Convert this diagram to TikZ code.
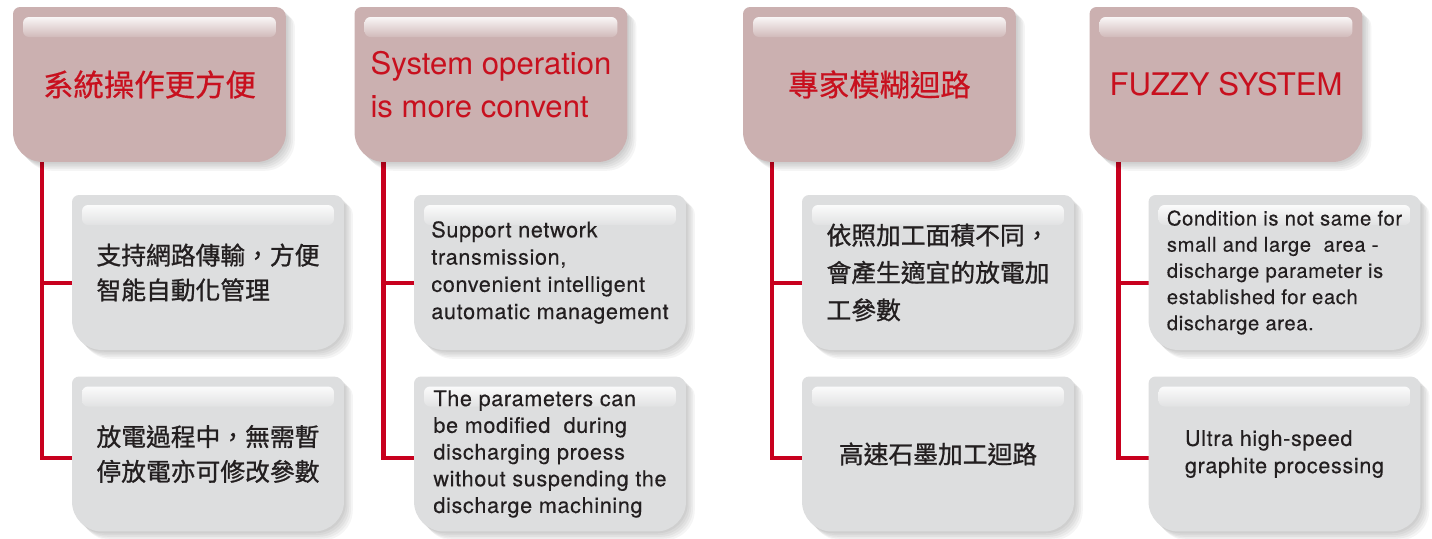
\documentclass[tikz,border=0pt]{standalone}
\usepackage{fontspec}
\setmainfont{TeX Gyre Heros}
\newfontfamily\bodyfont{TeX Gyre Heros}[LetterSpace=3, FakeBold=0.3]
\newfontfamily\cjk{Noto Sans CJK TC}[FakeBold=0.5]
\newfontfamily\cjkbody{Noto Sans CJK TC}[FakeBold=1]
\usetikzlibrary{backgrounds}

\definecolor{hdrfill}{HTML}{CBB0B0}
\definecolor{itemfill}{HTML}{DDDEDF}
\definecolor{spinered}{HTML}{C8001E}
\definecolor{hdrred}{HTML}{C8101E}
\definecolor{ink}{HTML}{231F20}

% glossy panel behind a node: soft shadow, body, light strip on top
\newcommand\glossbox[2]{%
  \foreach \s in {1,...,5}
    \fill[black, opacity=0.04, transform canvas={xshift=\s pt, yshift=-\s pt}]
      (#1.west) [rounded corners=0.14cm] |- (#1.north) [rounded corners=0.2cm] -| (#1.east)
      [rounded corners=0.6cm] |- (#1.south) -| (#1.west);
  \fill[#2]
    (#1.west) [rounded corners=0.14cm] |- (#1.north) [rounded corners=0.2cm] -| (#1.east)
    [rounded corners=0.6cm] |- (#1.south) -| (#1.west);
  \shade[top color=white!88!#2, middle color=white!50!#2, bottom color=white!12!#2, rounded corners=0.12cm]
    ([shift={(0.2cm,-0.2cm)}]#1.north west) rectangle ([shift={(-0.2cm,-0.6cm)}]#1.north east);
}

\begin{document}
\begin{tikzpicture}[
  x=0.02cm, y=-0.02cm,
  head/.style={minimum width=5.46cm, minimum height=3.1cm, inner sep=0pt, outer sep=0pt,
    text=hdrred, align=left, font=\fontsize{17.7}{24.4}\selectfont},
  headcjk/.style={head, font=\cjk\fontsize{17.3}{24.4}\selectfont},
  item/.style={minimum width=5.44cm, minimum height=3.1cm, inner ysep=0pt, outer sep=0pt,
    text=ink, align=left, font=\bodyfont\fontsize{12.3}{15.5}\selectfont},
  itemcjk/.style={item, font=\cjkbody\fontsize{14.1}{19.8}\selectfont},
  spine/.style={draw=spinered, line width=2.8pt}
]
\useasboundingbox (0,0) rectangle (1432,538);

% Headers
\node[headcjk] (hdr-1) at (149.5, 84.5) {系統操作更方便};
\node[head]    (hdr-2) at (491, 84.5) {System operation\\is more convent};
\node[headcjk] (hdr-3) at (879.5, 84.5) {專家模糊迴路};
\node[head]    (hdr-4) at (1226, 84.5) {FUZZY SYSTEM};

% Items, two under each header
\node[itemcjk] (item-1-a) at (208, 272.5) {支持網路傳輸，方便\\智能自動化管理};
\node[itemcjk] (item-1-b) at (208, 454) {放電過程中，無需暫\\停放電亦可修改參數};
\node[item] (item-2-a) at (550, 272.5)
  {Support network\\transmission,\\convenient intelligent\\automatic management};
\node[item, font=\bodyfont\fontsize{12.3}{15.2}\selectfont] (item-2-b) at (550, 454)
  {The parameters can\\be modified~ during\\discharging proess\\without suspending the\\discharge machining};
\node[itemcjk, font=\cjkbody\fontsize{14.1}{21.3}\selectfont] (item-3-a) at (938, 272.5)
  {依照加工面積不同，\\會產生適宜的放電加\\工參數};
\node[itemcjk] (item-3-b) at (938, 454) {高速石墨加工迴路};
\node[item, font=\bodyfont\fontsize{11.5}{14.9}\selectfont] (item-4-a) at (1284.5, 272.5)
  {Condition is not same for\\small and large~ area -\\discharge parameter is\\established for each\\discharge area.};
\node[item] (item-4-b) at (1284.5, 454) {Ultra high-speed\\graphite processing};

% Spines and panels behind the text
\begin{scope}[on background layer]
  \fill[white] (0,0) rectangle (1432,538);
  \foreach \c in {1,...,4} {
    \draw[spine] ([xshift=0.58cm]hdr-\c.south west) |- ([yshift=-0.21cm]item-\c-a.west);
    \draw[spine] ([xshift=0.58cm]hdr-\c.south west) |- ([yshift=-0.08cm]item-\c-b.west);
    \glossbox{hdr-\c}{hdrfill}
    \glossbox{item-\c-a}{itemfill}
    \glossbox{item-\c-b}{itemfill}
  }
\end{scope}

\end{tikzpicture}
\end{document}
